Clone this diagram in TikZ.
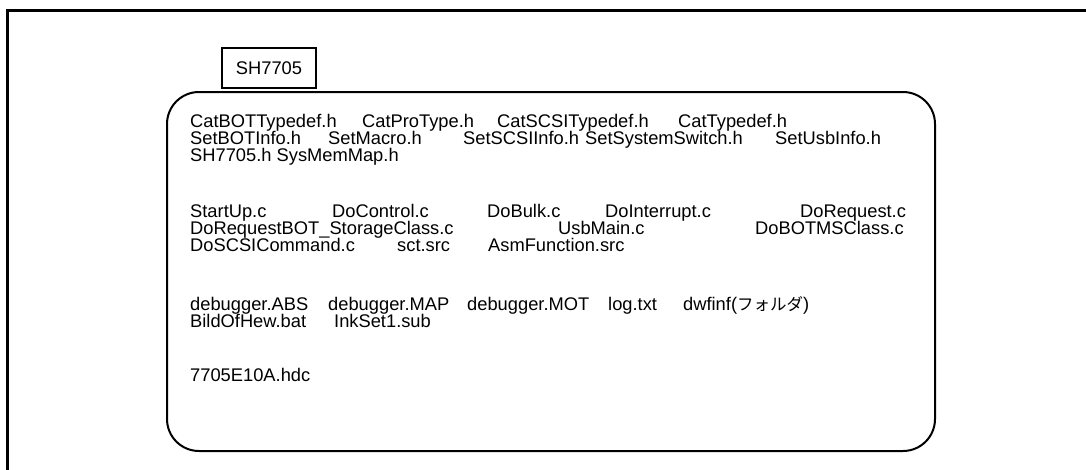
\documentclass[tikz,border=0pt]{standalone}
\usepackage{fontspec}
\setmainfont{Liberation Sans}
\newfontfamily\jpfont{Noto Sans CJK JP}

\begin{document}
\begin{tikzpicture}[x=1pt,y=-1pt,
  fname/.style={anchor=base west,inner sep=0pt,font=\fontsize{18.3}{20}\selectfont},
  chip/.style={draw,line width=1.5pt,minimum width=94pt,minimum height=40pt,
    inner sep=0pt,font=\fontsize{18.3}{20}\selectfont}]
  \useasboundingbox (0,0) rectangle (1086,469);
  % outer frame, open at right and bottom
  \draw[line width=3pt] (1095,10) -- (7,10) -- (7,480);
  % chip label and folder box
  \node[chip] (chip) at (269,68) {SH7705};
  \draw[line width=2pt,rounded corners=32pt] (167,92) rectangle (935,451);

  % headers
  \node[fname] (catbot) at (190,127) {CatBOTTypedef.h};
  \node[fname] (catpro) at (362,127) {CatProType.h};
  \node[fname] (catscsi) at (497,127) {CatSCSITypedef.h};
  \node[fname] (cattype) at (678,127) {CatTypedef.h};
  \node[fname] (setbot) at (190,144) {SetBOTInfo.h};
  \node[fname] (setmac) at (328,144) {SetMacro.h};
  \node[fname] (setscsi) at (463,144) {SetSCSIInfo.h};
  \node[fname] (setsys) at (585,144) {SetSystemSwitch.h};
  \node[fname] (setusb) at (775,144) {SetUsbInfo.h};
  \node[fname] (sysmem) at (190,161) {SH7705.h SysMemMap.h};

  % sources
  \node[fname] (startup) at (190,217) {StartUp.c};
  \node[fname] (doctrl) at (332,217) {DoControl.c};
  \node[fname] (dobulk) at (487,217) {DoBulk.c};
  \node[fname] (doint) at (605,217) {DoInterrupt.c};
  \node[fname] (doreq) at (800,217) {DoRequest.c};
  \node[fname] (doreqbot) at (190,234) {DoRequestBOT\_StorageClass.c};
  \node[fname] (usbmain) at (558,234) {UsbMain.c};
  \node[fname] (dobotms) at (755,234) {DoBOTMSClass.c};
  \node[fname] (doscsi) at (190,251) {DoSCSICommand.c};
  \node[fname] (sct) at (397,251) {sct.src};
  \node[fname] (asmfn) at (488,251) {AsmFunction.src};

  % debugger output
  \node[fname] (dbgabs) at (190,310) {debugger.ABS};
  \node[fname] (dbgmap) at (328,310) {debugger.MAP};
  \node[fname] (dbgmot) at (467,310) {debugger.MOT};
  \node[fname] (logtxt) at (608,310) {log.txt};
  \node[fname] (dwfinf) at (683,310) {dwfinf({\jpfont\fontsize{16.5}{20}\selectfont フォルダ})};
  \node[fname] (bild) at (190,327) {BildOfHew.bat};
  \node[fname] (inkset) at (334,327) {InkSet1.sub};

  \node[fname] (hdc) at (190,381) {7705E10A.hdc};
\end{tikzpicture}
\end{document}
